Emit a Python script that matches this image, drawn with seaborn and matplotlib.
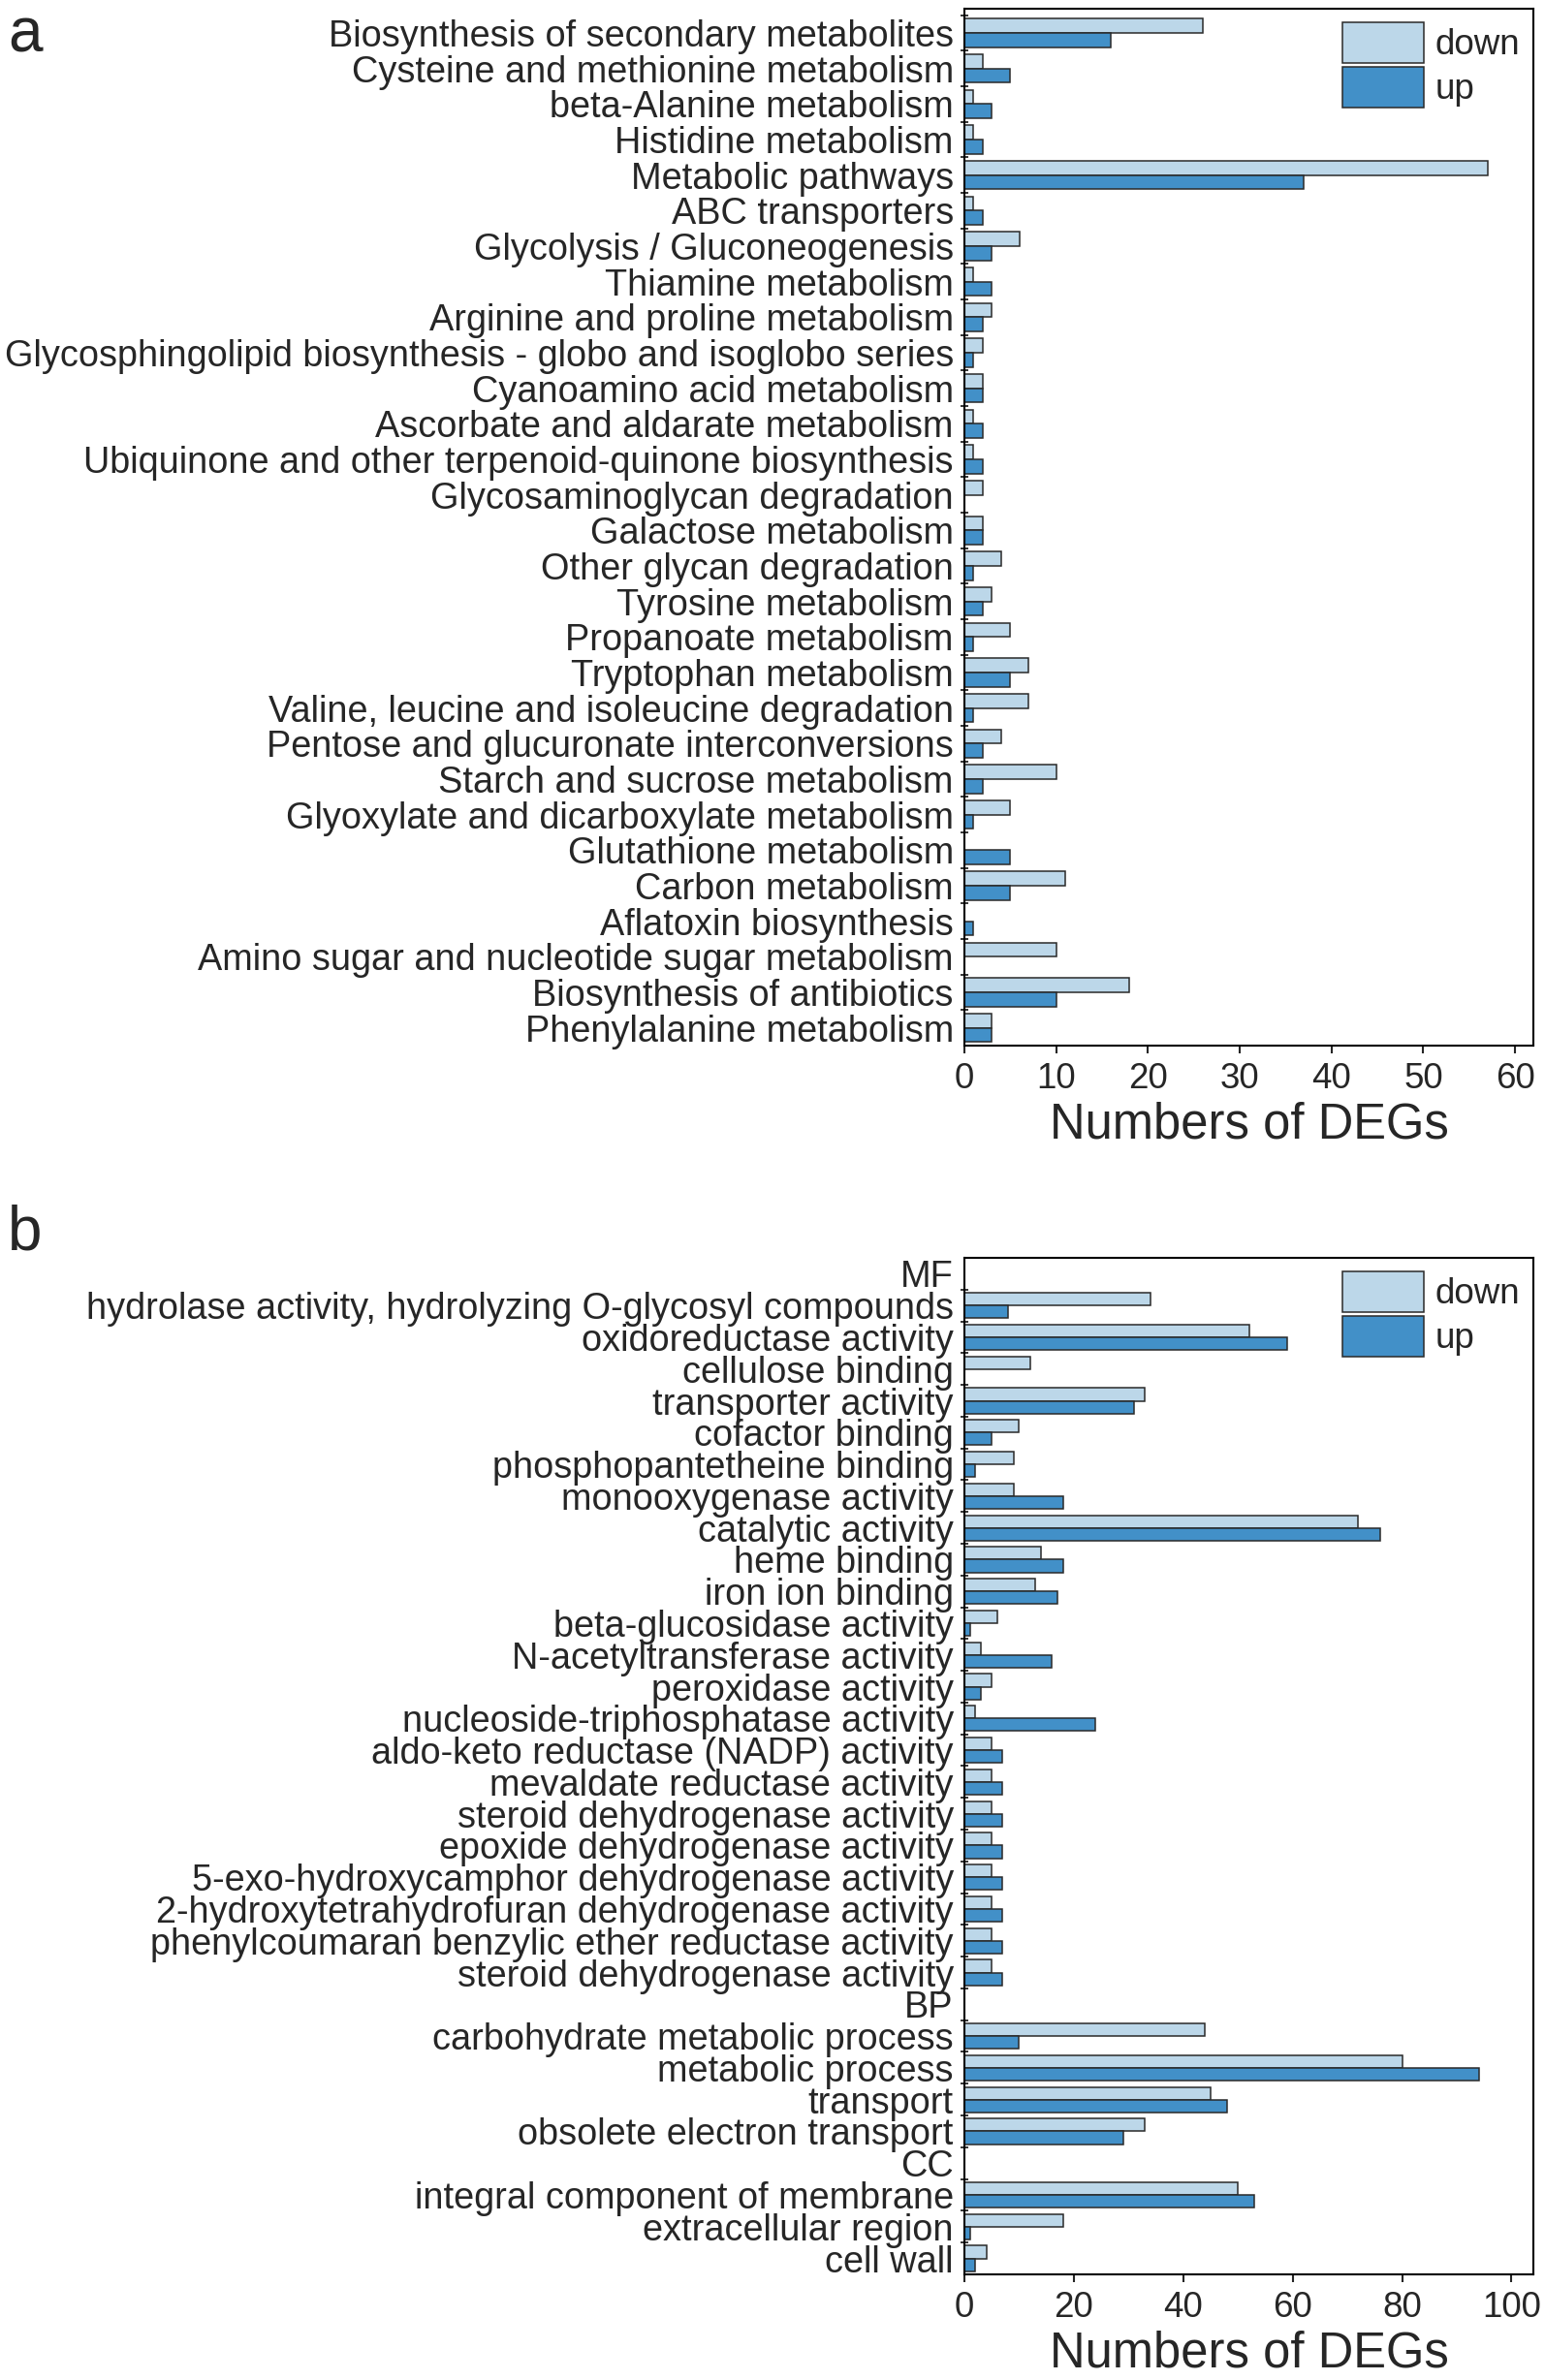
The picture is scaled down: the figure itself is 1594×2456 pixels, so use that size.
import numpy as np
import pandas as pd
import matplotlib
matplotlib.use("Agg")
import matplotlib.pyplot as plt
import seaborn as sns

sns.set_style("ticks")
plt.rcParams['font.family'] = ['Liberation Sans', 'DejaVu Sans']

#----------- panel a: KEGG pathways ------------------
kegg_terms = [
    "Biosynthesis of secondary metabolites",
    "Cysteine and methionine metabolism",
    "beta-Alanine metabolism",
    "Histidine metabolism",
    "Metabolic pathways",
    "ABC transporters",
    "Glycolysis / Gluconeogenesis",
    "Thiamine metabolism",
    "Arginine and proline metabolism",
    "Glycosphingolipid biosynthesis - globo and isoglobo series",
    "Cyanoamino acid metabolism",
    "Ascorbate and aldarate metabolism",
    "Ubiquinone and other terpenoid-quinone biosynthesis",
    "Glycosaminoglycan degradation",
    "Galactose metabolism",
    "Other glycan degradation",
    "Tyrosine metabolism",
    "Propanoate metabolism",
    "Tryptophan metabolism",
    "Valine, leucine and isoleucine degradation",
    "Pentose and glucuronate interconversions",
    "Starch and sucrose metabolism",
    "Glyoxylate and dicarboxylate metabolism",
    "Glutathione metabolism",
    "Carbon metabolism",
    "Aflatoxin biosynthesis",
    "Amino sugar and nucleotide sugar metabolism",
    "Biosynthesis of antibiotics",
    "Phenylalanine metabolism",
]
kegg_down = [26, 2, 1, 1, 57, 1, 6, 1, 3, 2, 2, 1, 1, 2, 2,
             4, 3, 5, 7, 7, 4, 10, 5, 0, 11, 0, 10, 18, 3]
kegg_up = [16, 5, 3, 2, 37, 2, 3, 3, 2, 1, 2, 2, 2, 0, 2,
           1, 2, 1, 5, 1, 2, 2, 1, 5, 5, 1, 0, 10, 3]

#----------- panel b: GO terms (MF / BP / CC are group headers) ------------------
go_terms = [
    "MF",
    "hydrolase activity, hydrolyzing O-glycosyl compounds",
    "oxidoreductase activity",
    "cellulose binding",
    "transporter activity",
    "cofactor binding",
    "phosphopantetheine binding",
    "monooxygenase activity",
    "catalytic activity",
    "heme binding",
    "iron ion binding",
    "beta-glucosidase activity",
    "N-acetyltransferase activity",
    "peroxidase activity",
    "nucleoside-triphosphatase activity",
    "aldo-keto reductase (NADP) activity",
    "mevaldate reductase activity",
    "steroid dehydrogenase activity",
    "epoxide dehydrogenase activity",
    "5-exo-hydroxycamphor dehydrogenase activity",
    "2-hydroxytetrahydrofuran dehydrogenase activity",
    "phenylcoumaran benzylic ether reductase activity",
    "steroid dehydrogenase activity",
    "BP",
    "carbohydrate metabolic process",
    "metabolic process",
    "transport",
    "obsolete electron transport",
    "CC",
    "integral component of membrane",
    "extracellular region",
    "cell wall",
]
go_down = [np.nan, 34, 52, 12, 33, 10, 9, 9, 72, 14, 13, 6, 3, 5, 2,
           5, 5, 5, 5, 5, 5, 5, 5,
           np.nan, 44, 80, 45, 33,
           np.nan, 50, 18, 4]
go_up = [np.nan, 8, 59, 0, 31, 5, 2, 18, 76, 18, 17, 1, 16, 3, 24,
         7, 7, 7, 7, 7, 7, 7, 7,
         np.nan, 10, 94, 48, 29,
         np.nan, 53, 1, 2]

light = "#BCD7E9"
dark = "#4290C8"


def long_table(terms, down, up):
    # unique row keys, the GO list has a repeated term
    keys = [str(i) for i in range(len(terms))]
    df = pd.DataFrame({
        "key": keys + keys,
        "n": list(down) + list(up),
        "dir": ["down"] * len(terms) + ["up"] * len(terms),
    })
    return keys, df


def draw_panel(ax, terms, down, up, xmax, xticks, top_pad, top_tick):
    keys, df = long_table(terms, down, up)
    sns.barplot(data=df, x="n", y="key", hue="dir", order=keys,
                hue_order=["down", "up"], palette=[light, dark],
                orient="h", width=0.8, saturation=1, errorbar=None,
                edgecolor="#2a2a2a", linewidth=1.1, ax=ax)
    n = len(terms)
    ax.set_yticks(range(n))
    ax.set_yticklabels(terms)
    ax.tick_params(axis="y", which="major", length=0, pad=8, labelsize=27.3)
    start = -0.5 if top_tick else 0.5
    ax.set_yticks(np.arange(start, n - 1, 1.0), minor=True)
    ax.tick_params(axis="y", which="minor", direction="inout", length=6, width=1.3)
    ax.set_ylim(n - 0.5, -0.5 - top_pad)
    ax.set_xlim(0, xmax)
    ax.set_xticks(xticks)
    ax.tick_params(axis="x", length=6, width=1.5, pad=6, labelsize=26.5)
    ax.set_ylabel("")
    ax.set_xlabel("Numbers of DEGs", fontsize=36.5, labelpad=4)
    for s in ax.spines.values():
        s.set_linewidth(1.5)
        s.set_color("black")
    sns.move_legend(ax, "upper left", bbox_to_anchor=(0.664, 0.987),
                    frameon=False, title=None, fontsize=26.5,
                    handlelength=2.3, handleheight=1.4, labelspacing=0.1,
                    handletextpad=0.3, borderpad=0, borderaxespad=0)


fig = plt.figure(figsize=(15.94, 24.56), dpi=100)
ax_a = fig.add_axes([0.6242, 0.5607, 0.3683, 0.4357])
ax_b = fig.add_axes([0.6242, 0.0444, 0.3683, 0.4271])

draw_panel(ax_a, kegg_terms, kegg_down, kegg_up, 62, range(0, 61, 10), 0.19, True)
draw_panel(ax_b, go_terms, go_down, go_up, 104, range(0, 101, 20), 0.0, False)

fig.text(0.005, 1 - 54 / 2456, "a", fontsize=46, va="baseline")
fig.text(0.005, 1 - 1290 / 2456, "b", fontsize=46, va="baseline")

plt.savefig("out.png", dpi=100)
